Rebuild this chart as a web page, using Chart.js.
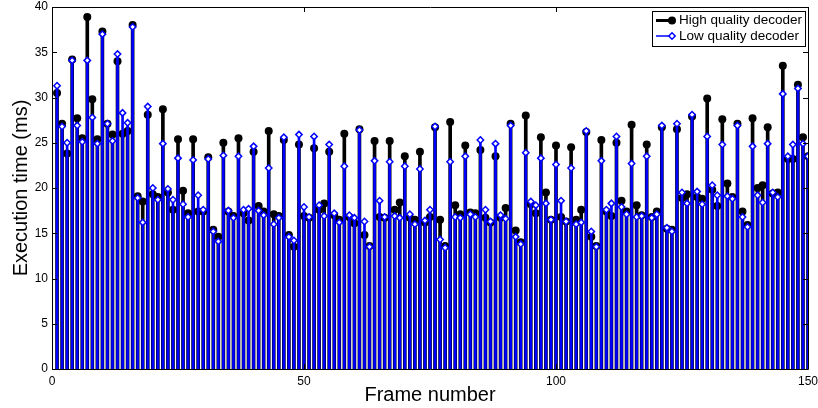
<!DOCTYPE html>
<html>
<head>
<meta charset="utf-8">
<script src="https://cdn.jsdelivr.net/npm/chart.js@4/dist/chart.umd.min.js"></script>
<style>
  html, body { margin: 0; padding: 0; background: #fff; }
</style>
</head>
<body>
<canvas id="chart" width="818" height="408"></canvas>
<script>
// frame numbers along the x axis
const frames = Array.from({ length: 150 }, (_, i) => i + 1)

// execution time per frame (ms)
const highQuality = [
  30.5, 27.1, 23.8, 34.2, 27.7, 25.5, 38.9, 29.8, 25.4, 37.3, 27.1, 25.9, 34.0, 26.0, 26.3, 38.0, 19.1, 18.5, 28.1, 19.3, 19.0, 28.7, 19.5, 17.6, 25.4,
  19.7, 17.2, 25.4, 17.4, 17.4, 23.4, 15.4, 14.6, 25.0, 17.4, 16.9, 25.5, 17.2, 16.4, 24.0, 18.0, 17.4, 26.3, 17.1, 16.9, 25.3, 14.8, 13.5, 24.8, 16.9,
  16.7, 24.4, 17.6, 18.3, 24.0, 17.0, 16.5, 26.0, 16.8, 16.1, 26.5, 14.8, 13.6, 25.2, 16.8, 16.7, 25.2, 17.6, 18.4, 23.5, 16.7, 16.5, 24.0, 16.2, 16.8,
  26.7, 16.5, 13.6, 27.3, 18.1, 17.1, 24.7, 17.3, 17.2, 24.2, 16.7, 16.2, 23.5, 16.7, 17.8, 27.1, 15.3, 14.0, 28.0, 18.2, 17.2, 25.6, 19.5, 16.5, 24.7,
  16.8, 16.3, 24.5, 16.5, 17.6, 26.2, 14.6, 13.6, 25.3, 17.4, 16.9, 25.0, 18.6, 17.4, 27.0, 18.1, 17.0, 24.8, 16.8, 17.4, 26.7, 15.5, 15.4, 26.5, 18.9,
  19.3, 27.9, 19.0, 18.8, 29.9, 19.8, 18.0, 27.6, 20.5, 19.0, 27.1, 17.4, 15.9, 27.7, 20.0, 20.3, 26.7, 19.4, 19.5, 33.5, 23.2, 23.2, 31.4, 25.6, 23.5
]
const lowQuality = [
  31.3, 26.8, 25.0, 34.1, 26.9, 25.1, 34.1, 27.8, 24.9, 37.0, 27.1, 25.2, 34.8, 28.3, 27.2, 37.8, 18.9, 16.2, 29.0, 20.0, 18.7, 24.9, 19.9, 18.7, 23.3,
  18.2, 16.8, 23.1, 19.2, 17.6, 23.2, 15.2, 14.1, 23.6, 17.5, 16.7, 23.5, 17.6, 17.7, 24.6, 17.5, 17.0, 22.2, 16.0, 16.7, 25.6, 14.6, 14.2, 25.9, 17.9,
  16.8, 25.7, 18.1, 16.9, 24.8, 17.2, 16.2, 22.4, 17.0, 16.7, 26.4, 16.3, 13.5, 23.0, 18.6, 16.8, 22.9, 16.9, 16.7, 22.4, 17.1, 16.0, 22.1, 16.4, 17.6,
  26.8, 14.3, 13.4, 22.9, 16.8, 16.7, 23.5, 17.1, 16.8, 25.3, 17.6, 16.3, 24.9, 17.0, 16.6, 26.9, 14.6, 13.8, 23.9, 18.5, 18.1, 23.3, 18.3, 16.5, 22.6,
  18.6, 16.3, 22.2, 16.0, 16.2, 26.3, 15.2, 13.5, 23.0, 17.6, 18.3, 25.7, 17.9, 17.1, 22.7, 16.8, 16.9, 23.5, 16.7, 17.1, 26.9, 15.6, 15.2, 27.1, 19.5,
  18.3, 28.1, 19.6, 18.2, 25.7, 20.3, 19.2, 24.8, 19.1, 18.8, 26.9, 16.8, 15.7, 24.6, 19.2, 18.4, 24.9, 19.5, 19.0, 30.4, 23.5, 24.8, 31.0, 24.9, 23.5
]

const xTicks = [0, 50, 100, 150]
const yTicks = [0, 5, 10, 15, 20, 25, 30, 35, 40]
const seriesNames = ['High quality decoder', 'Low quality decoder']

const FONT = "'Liberation Sans', Arial, Helvetica, sans-serif"
const BLUE = '#0000ff'

function points(vals) {
  return vals.map((v, i) => ({ x: frames[i], y: v }))
}

// matlab style box: frame around the plot with ticks pointing inwards
const boxTicks = {
  id: 'boxTicks',
  afterDatasetsDraw(chart) {
    const { ctx, chartArea: a } = chart
    const xs = chart.scales.x, ys = chart.scales.y
    const len = 5
    ctx.save()
    ctx.strokeStyle = '#000'
    ctx.lineWidth = 1
    ctx.beginPath()
    ctx.rect(Math.round(a.left) + 0.5, Math.round(a.top) + 0.5, Math.round(a.right - a.left), Math.round(a.bottom - a.top))
    xTicks.forEach(v => {
      const px = Math.round(xs.getPixelForValue(v)) + 0.5
      ctx.moveTo(px, a.bottom); ctx.lineTo(px, a.bottom - len)
      ctx.moveTo(px, a.top); ctx.lineTo(px, a.top + len)
    })
    yTicks.forEach(v => {
      const py = Math.round(ys.getPixelForValue(v)) + 0.5
      ctx.moveTo(a.left, py); ctx.lineTo(a.left + len, py)
      ctx.moveTo(a.right, py); ctx.lineTo(a.right - len, py)
    })
    ctx.stroke()
    ctx.restore()
  }
}

// legend box in the upper right corner, line + marker samples
const stemLegend = {
  id: 'stemLegend',
  afterDraw(chart) {
    const { ctx, chartArea: a } = chart
    const w = 153, h = 35
    const x0 = a.right - w - 3, y0 = a.top + 4
    ctx.save()
    ctx.fillStyle = '#fff'
    ctx.fillRect(x0, y0, w, h)
    ctx.strokeStyle = '#000'
    ctx.lineWidth = 1
    ctx.strokeRect(x0 + 0.5, y0 + 0.5, w, h)

    const rows = [y0 + 9.5, y0 + 25]
    // high quality: thick black line with filled circle
    ctx.strokeStyle = '#000'
    ctx.lineWidth = 3
    ctx.beginPath(); ctx.moveTo(x0 + 4, rows[0]); ctx.lineTo(x0 + 21, rows[0]); ctx.stroke()
    ctx.fillStyle = '#000'
    ctx.beginPath(); ctx.arc(x0 + 20, rows[0], 4, 0, Math.PI * 2); ctx.fill()
    // low quality: thin blue line with hollow diamond
    ctx.strokeStyle = BLUE
    ctx.lineWidth = 1.5
    ctx.beginPath(); ctx.moveTo(x0 + 4, rows[1]); ctx.lineTo(x0 + 20, rows[1]); ctx.stroke()
    const dx = x0 + 20, r = 3.2
    ctx.fillStyle = '#fff'
    ctx.beginPath()
    ctx.moveTo(dx, rows[1] - r); ctx.lineTo(dx + r, rows[1]); ctx.lineTo(dx, rows[1] + r); ctx.lineTo(dx - r, rows[1])
    ctx.closePath(); ctx.fill(); ctx.stroke()

    ctx.fillStyle = '#000'
    ctx.font = '13.5px ' + FONT
    ctx.textBaseline = 'middle'
    ctx.fillText(seriesNames[0], x0 + 27, rows[0])
    ctx.fillText(seriesNames[1], x0 + 27, rows[1])
    ctx.restore()
  }
}

const ctx = document.getElementById('chart')

var myChart = new Chart(ctx, {
  type: 'bar',
  data: {
    datasets: [
      {
        type: 'line',
        label: seriesNames[1],
        data: points(lowQuality),
        showLine: false,
        pointStyle: 'rectRot',
        pointRadius: 3.2,
        pointBorderWidth: 1.5,
        pointBorderColor: BLUE,
        pointBackgroundColor: '#fff',
        order: 0
      },
      {
        type: 'bar',
        data: points(lowQuality),
        backgroundColor: BLUE,
        barThickness: 2,
        grouped: false,
        order: 1
      },
      {
        type: 'line',
        label: seriesNames[0],
        data: points(highQuality),
        showLine: false,
        pointStyle: 'circle',
        pointRadius: 4,
        pointBorderWidth: 0,
        pointBackgroundColor: '#000',
        pointBorderColor: '#000',
        order: 2
      },
      {
        type: 'bar',
        data: points(highQuality),
        backgroundColor: '#000',
        barThickness: 3,
        grouped: false,
        order: 3
      }
    ]
  },
  options: {
    responsive: false,
    animation: false,
    devicePixelRatio: 1,
    layout: { padding: { top: 7, right: 10, left: 0, bottom: 0 } },
    plugins: {
      legend: { display: false },
      tooltip: { enabled: false }
    },
    scales: {
      x: {
        type: 'linear',
        min: 0,
        max: 150,
        offset: false,
        grid: { display: false, drawTicks: false },
        border: { display: false },
        afterBuildTicks: s => { s.ticks = xTicks.map(v => ({ value: v })) },
        afterFit: s => { s.height = 39; s.paddingLeft = 0; s.paddingRight = 0 },
        ticks: { color: '#000', font: { family: FONT, size: 12 }, padding: 5, maxRotation: 0 },
        title: {
          display: true,
          text: 'Frame number',
          color: '#000',
          font: { family: FONT, size: 20 },
          padding: { top: 0, bottom: 1 }
        }
      },
      y: {
        min: 0,
        max: 40,
        grid: { display: false, drawTicks: false },
        border: { display: false },
        afterBuildTicks: s => { s.ticks = yTicks.map(v => ({ value: v })) },
        afterFit: s => { s.width = 52; s.paddingTop = 0; s.paddingBottom = 0 },
        ticks: { color: '#000', font: { family: FONT, size: 12 }, padding: 4 },
        title: {
          display: true,
          text: 'Execution time (ms)',
          color: '#000',
          font: { family: FONT, size: 20 },
          padding: { top: 9, bottom: 0 }
        }
      }
    }
  },
  plugins: [boxTicks, stemLegend]
})
</script>
</body>
</html>
